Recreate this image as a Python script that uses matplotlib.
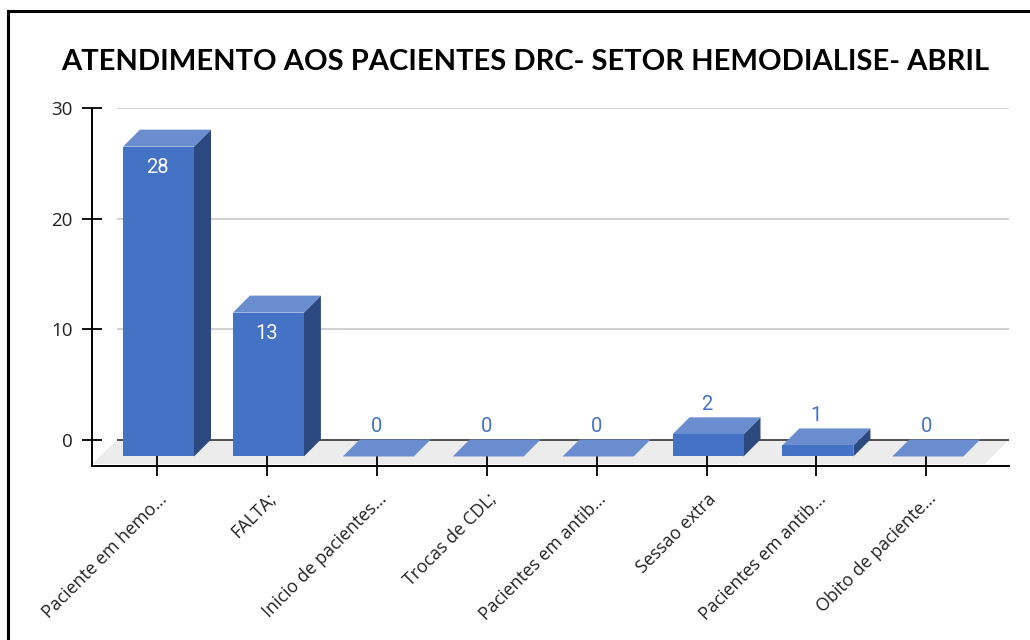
import matplotlib
matplotlib.use("Agg")
import matplotlib.pyplot as plt
from matplotlib.lines import Line2D
from matplotlib.patches import Polygon
from matplotlib.transforms import ScaledTranslation

categorias = ["Paciente em hemo...", "FALTA;", "Inicio de pacientes...", "Trocas de CDL;",
              "Pacientes em antib...", "Sessao extra", "Pacientes em antib...", "Obito de paciente..."]
valores = [28, 13, 0, 0, 0, 2, 1, 0]
yticks = [0, 10, 20, 30]
titulo = "ATENDIMENTO AOS PACIENTES DRC- SETOR HEMODIALISE- ABRIL"

W, H = 1030, 640
azul = "#4472c4"
azul_topo = "#6a8dcf"
azul_lado = "#2d4a80"

fig = plt.figure(figsize=(W / 100, H / 100), dpi=100)
ax = fig.add_axes([92 / W, 1 - 466 / H, (1009 - 92) / W, (466 - 108) / H])
ax.patch.set_visible(False)

# escala: 109.9 px por categoria, 11.05 px por unidade
px_x = 1 / 109.9
px_y = 1 / 11.05
ax.set_xlim(-65 * px_x, (1009 - 157) * px_x)
ax.set_ylim(-26 * px_y, 30)

x0, x1 = ax.get_xlim()
y0 = ax.get_ylim()[0]
prof_x = 17 * px_x
prof_y = 17 * px_y
base = -16.5 * px_y
larg = 71 * px_x
desl = 1.5 * px_x  # barra um pouco a direita do tick

# chao cinza
ax.add_patch(Polygon([(x0, y0 + 2 * px_y), (x0 + 25 * px_x, 0), (x1, 0), (x1 - 24 * px_x, y0 + 2 * px_y)],
                     closed=True, fc="#ececec", ec="none", zorder=1))

# linhas de grade
ax.hlines(yticks[1:], x0 + 25 * px_x, x1, color="#c8c8c8", lw=1.2, zorder=1)
ax.hlines(0, x0 + 25 * px_x, x1, color="#333333", lw=1.2, zorder=1.5)

# barras 3D
for i, v in enumerate(valores):
    e = i + desl - larg / 2
    d = i + desl + larg / 2
    topo = base + v
    if v > 0:
        ax.bar(i + desl, v, larg, bottom=base, color=azul, zorder=4)
        ax.add_patch(Polygon([(d, base), (d + prof_x, base + prof_y), (d + prof_x, topo + prof_y), (d, topo)],
                             closed=True, fc=azul_lado, ec="none", zorder=3))
    ax.add_patch(Polygon([(e, topo), (e + prof_x, topo + prof_y), (d + prof_x, topo + prof_y), (d, topo)],
                         closed=True, fc=azul_topo, ec="none", zorder=3))
    if v > 5:
        ax.annotate(str(v), (i, topo), xytext=(0, -8), textcoords="offset points", ha="center",
                    va="top", color="white", fontsize=14.5, family="Roboto", zorder=5)
    else:
        ax.annotate(str(v), (i, topo + prof_y), xytext=(0, 2.5), textcoords="offset points",
                    ha="center", va="bottom", color=azul, fontsize=14.5, family="Roboto", zorder=5)

# eixos
for lado in ["top", "right"]:
    ax.spines[lado].set_visible(False)
for lado in ["left", "bottom"]:
    ax.spines[lado].set_linewidth(1.4)
    ax.spines[lado].set_zorder(2)
ax.set_yticks(yticks)
ax.set_yticklabels([str(t) for t in yticks], family="Open Sans", fontsize=13.5, color="#222222")
ax.set_xticks(range(len(categorias)))
ax.set_xticklabels(categorias, family="Open Sans", fontsize=12.8, color="#222222",
                   rotation=45, ha="right", va="top", rotation_mode="anchor")
ax.tick_params(axis="y", direction="inout", length=15, width=1.3, pad=6.5, zorder=2)
ax.tick_params(axis="x", direction="inout", length=14.4, width=1.3, pad=10, zorder=2)
off = ScaledTranslation(0.5 / 72, 0, fig.dpi_scale_trans)
for t in ax.get_xticklabels():
    t.set_transform(t.get_transform() + off)

fig.text(525 / W, 1 - 62 / H, titulo, ha="center", va="center", family="Lato", weight="bold",
         fontsize=21, color="black")

# moldura preta da imagem
fig.add_artist(Line2D([7.5 / W, 7.5 / W], [0, 1 - 10.5 / H], color="black", lw=2.2))
fig.add_artist(Line2D([7.5 / W, 1], [1 - 10.5 / H, 1 - 10.5 / H], color="black", lw=2.2))

fig.savefig("out.png", dpi=100)
